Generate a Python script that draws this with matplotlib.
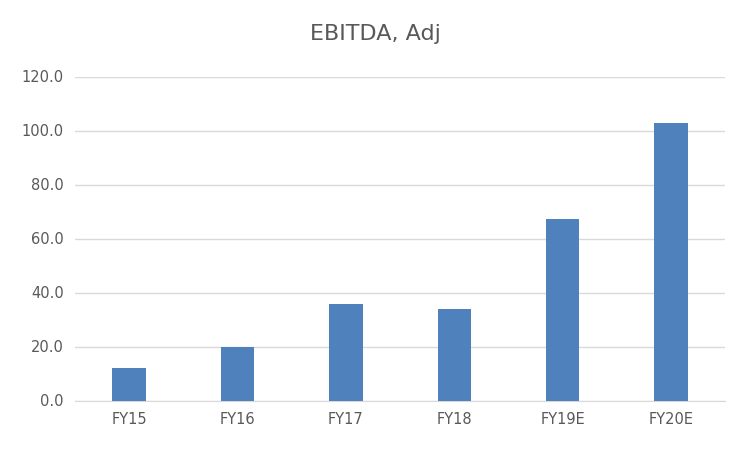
import matplotlib
matplotlib.use("Agg")
import matplotlib.pyplot as plt

categories = ["FY15", "FY16", "FY17", "FY18", "FY19E", "FY20E"]
values = [12.0, 20.0, 35.8, 33.9, 67.3, 102.6]
yticks = [0, 20, 40, 60, 80, 100, 120]

fig = plt.figure(figsize=(7.5, 4.5), dpi=100)
ax = fig.add_axes([0.1, 0.11, 0.867, 0.72])
x = range(len(categories))
ax.bar(x, values, width=0.31, color="#4f81bd", zorder=3)
ax.set_xlim(-0.5, len(categories) - 0.5)
ax.set_ylim(0, 120)
ax.set_yticks(yticks)
ax.set_yticklabels([f"{v:.1f}" for v in yticks], fontsize=10.5, color="#595959")
ax.set_xticks(list(x))
ax.set_xticklabels(categories, fontsize=10.5, color="#595959")
ax.grid(axis="y", color="#d9d9d9", linewidth=1, zorder=0)
for s in ["top", "right", "left"]:
    ax.spines[s].set_visible(False)
ax.spines["bottom"].set_color("#d9d9d9")
ax.tick_params(length=0, pad=8)
fig.text(0.5, 0.91, "EBITDA, Adj", ha="center", fontsize=16, color="#595959")
fig.savefig("out.png")
